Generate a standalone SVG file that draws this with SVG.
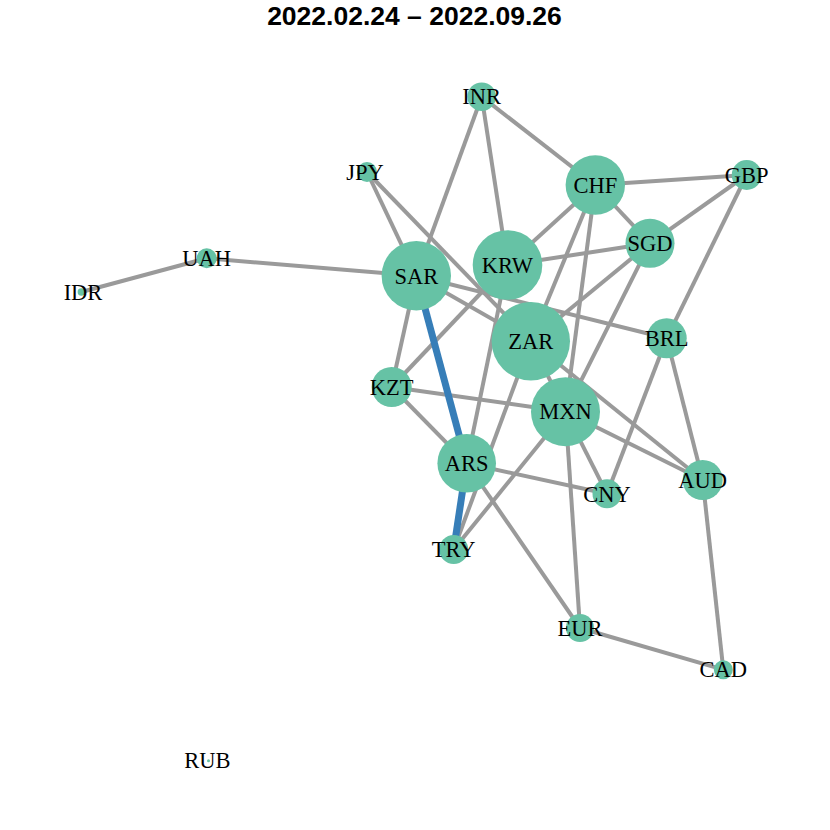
<svg xmlns="http://www.w3.org/2000/svg" width="830" height="830" viewBox="0 0 830 830">
<style>
.e{stroke:#9a9a9a;stroke-width:4;fill:none}
.b{stroke:#377EB8;stroke-width:7;fill:none}
.n circle{fill:#66C2A5}
.n text{font-family:"Liberation Serif","Times New Roman",serif;font-size:22.5px;fill:#000;text-anchor:middle}
.t{font-family:"Liberation Sans",Arial,sans-serif;font-size:26.5px;font-weight:bold;text-anchor:middle;fill:#000}
</style>
<rect width="830" height="830" fill="#fff"/>
<text class="t" x="414.5" y="25">2022.02.24 – 2022.09.26</text>
<g id="edges">
<line class="e" x1="81.3" y1="292" x2="206.7" y2="258.3"/>
<line class="e" x1="206.7" y1="258.3" x2="416.3" y2="275.8"/>
<line class="e" x1="481.7" y1="96.7" x2="416.3" y2="275.8"/>
<line class="e" x1="481.7" y1="96.7" x2="507.5" y2="265"/>
<line class="e" x1="481.7" y1="96.7" x2="595.3" y2="185"/>
<line class="e" x1="367" y1="172" x2="416.3" y2="275.8"/>
<line class="e" x1="367" y1="172" x2="530.8" y2="341.2"/>
<line class="e" x1="595.3" y1="185" x2="746.7" y2="175"/>
<line class="e" x1="595.3" y1="185" x2="650" y2="243.3"/>
<line class="e" x1="595.3" y1="185" x2="507.5" y2="265"/>
<line class="e" x1="595.3" y1="185" x2="530.8" y2="341.2"/>
<line class="e" x1="595.3" y1="185" x2="565.5" y2="411.7"/>
<line class="e" x1="746.7" y1="175" x2="650" y2="243.3"/>
<line class="e" x1="746.7" y1="175" x2="666.7" y2="338.3"/>
<line class="e" x1="650" y1="243.3" x2="507.5" y2="265"/>
<line class="e" x1="650" y1="243.3" x2="530.8" y2="341.2"/>
<line class="e" x1="650" y1="243.3" x2="565.5" y2="411.7"/>
<line class="e" x1="416.3" y1="275.8" x2="666.7" y2="338.3"/>
<line class="e" x1="416.3" y1="275.8" x2="530.8" y2="341.2"/>
<line class="e" x1="416.3" y1="275.8" x2="391.7" y2="387"/>
<line class="e" x1="507.5" y1="265" x2="391.7" y2="387"/>
<line class="e" x1="507.5" y1="265" x2="466.7" y2="463.3"/>
<line class="e" x1="530.8" y1="341.2" x2="453.7" y2="549.5"/>
<line class="e" x1="530.8" y1="341.2" x2="702.7" y2="480"/>
<line class="e" x1="530.8" y1="341.2" x2="565.5" y2="411.7"/>
<line class="e" x1="391.7" y1="387" x2="565.5" y2="411.7"/>
<line class="e" x1="391.7" y1="387" x2="466.7" y2="463.3"/>
<line class="e" x1="565.5" y1="411.7" x2="607" y2="493.8"/>
<line class="e" x1="565.5" y1="411.7" x2="702.7" y2="480"/>
<line class="e" x1="565.5" y1="411.7" x2="580" y2="628"/>
<line class="e" x1="565.5" y1="411.7" x2="453.7" y2="549.5"/>
<line class="e" x1="466.7" y1="463.3" x2="607" y2="493.8"/>
<line class="e" x1="466.7" y1="463.3" x2="580" y2="628"/>
<line class="e" x1="666.7" y1="338.3" x2="607" y2="493.8"/>
<line class="e" x1="666.7" y1="338.3" x2="702.7" y2="480"/>
<line class="e" x1="702.7" y1="480" x2="723.3" y2="669.7"/>
<line class="e" x1="580" y1="628" x2="723.3" y2="669.7"/>
<line class="b" x1="416.3" y1="275.8" x2="466.7" y2="463.3"/>
<line class="b" x1="466.7" y1="463.3" x2="453.7" y2="549.5"/>
</g>
<g id="IDR" class="n"><circle cx="81.3" cy="292" r="3.7"/><text x="83" y="299.7">IDR</text></g>
<g id="UAH" class="n"><circle cx="206.7" cy="258.3" r="10"/><text x="206.7" y="266">UAH</text></g>
<g id="INR" class="n"><circle cx="481.7" cy="96.7" r="14.3"/><text x="481.7" y="104.4">INR</text></g>
<g id="JPY" class="n"><circle cx="367" cy="172" r="10"/><text x="365" y="179.7">JPY</text></g>
<g id="CHF" class="n"><circle cx="595.3" cy="185" r="29.7"/><text x="595.3" y="192.7">CHF</text></g>
<g id="GBP" class="n"><circle cx="746.7" cy="175" r="15"/><text x="746.7" y="182.7">GBP</text></g>
<g id="SGD" class="n"><circle cx="650" cy="243.3" r="24.5"/><text x="650" y="251">SGD</text></g>
<g id="KRW" class="n"><circle cx="507.5" cy="265" r="34.8"/><text x="507.5" y="272.7">KRW</text></g>
<g id="SAR" class="n"><circle cx="416.3" cy="275.8" r="34.7"/><text x="416.3" y="283.5">SAR</text></g>
<g id="ZAR" class="n"><circle cx="530.8" cy="341.2" r="39.2"/><text x="530.8" y="348.9">ZAR</text></g>
<g id="BRL" class="n"><circle cx="666.7" cy="338.3" r="20"/><text x="666.7" y="346">BRL</text></g>
<g id="KZT" class="n"><circle cx="391.7" cy="387" r="20"/><text x="391.7" y="394.7">KZT</text></g>
<g id="MXN" class="n"><circle cx="565.5" cy="411.7" r="34.5"/><text x="565.5" y="419.4">MXN</text></g>
<g id="ARS" class="n"><circle cx="466.7" cy="463.3" r="29.3"/><text x="466.7" y="471">ARS</text></g>
<g id="CNY" class="n"><circle cx="607" cy="493.8" r="14.5"/><text x="607" y="501.5">CNY</text></g>
<g id="AUD" class="n"><circle cx="702.7" cy="480" r="20"/><text x="702.7" y="487.7">AUD</text></g>
<g id="TRY" class="n"><circle cx="453.7" cy="549.5" r="14.5"/><text x="453.7" y="557.2">TRY</text></g>
<g id="EUR" class="n"><circle cx="580" cy="628" r="14"/><text x="580" y="635.7">EUR</text></g>
<g id="CAD" class="n"><circle cx="723.3" cy="669.7" r="9.5"/><text x="723.3" y="677.4">CAD</text></g>
<g id="RUB" class="n"><circle cx="208.5" cy="760.7" r="1.5"/><text x="207.5" y="768.4">RUB</text></g>
</svg>
